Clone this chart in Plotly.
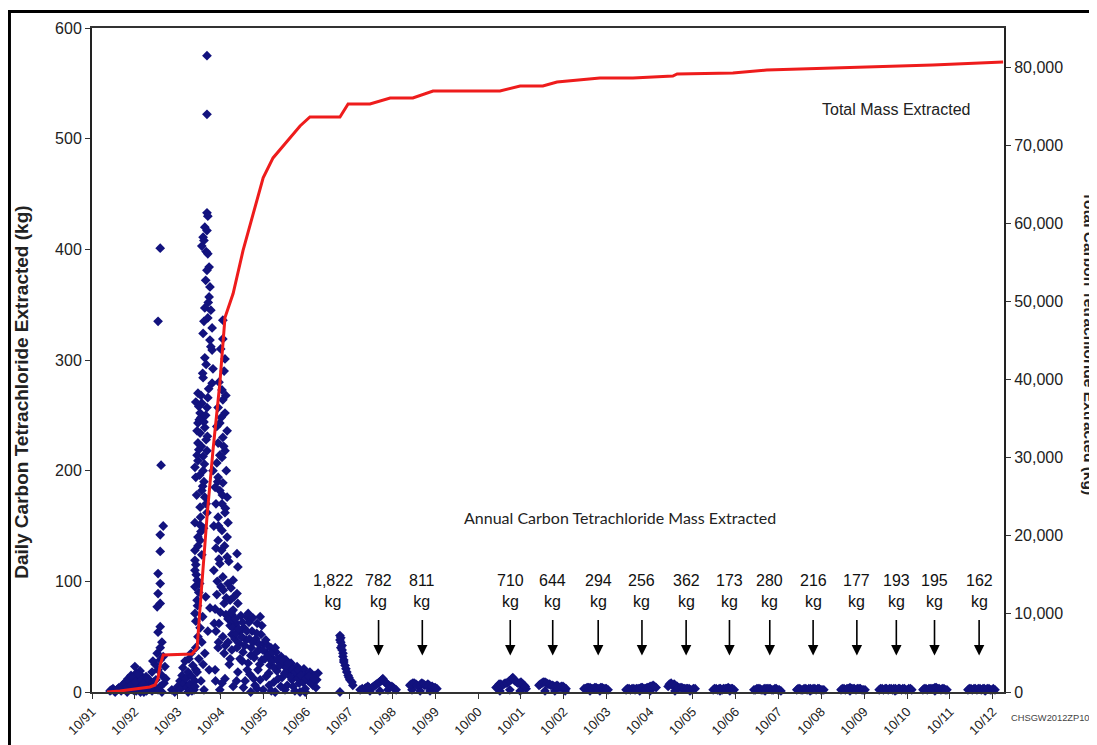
import plotly.graph_objects as go

# ---------------- data ----------------
tick_labels = ["10/91", "10/92", "10/93", "10/94", "10/95", "10/96", "10/97", "10/98",
               "10/99", "10/00", "10/01", "10/02", "10/03", "10/04", "10/05", "10/06",
               "10/07", "10/08", "10/09", "10/10", "10/11", "10/12"]

# Daily extraction (decimal year, kg/day)
early_year = [1992.17, 1992.24, 1992.29, 1992.33, 1992.38, 1992.43, 1992.47, 1992.52, 1992.54, 1992.59,
              1992.61, 1992.66, 1992.68, 1992.71, 1992.73, 1992.75, 1992.78, 1992.80, 1992.82, 1992.85,
              1992.87, 1992.89, 1992.92, 1992.94, 1992.96, 1992.99, 1993.01, 1993.03, 1993.06, 1993.08,
              1993.10, 1993.13, 1993.15, 1993.17, 1993.20, 1992.57, 1992.78, 1992.96, 1992.64, 1992.87,
              1992.20, 1992.27, 1992.36, 1992.45, 1992.50, 1992.56, 1992.63, 1992.66, 1992.70, 1992.76,
              1992.83, 1992.90, 1992.95, 1993.00, 1993.05, 1993.12, 1993.18, 1992.74, 1992.88, 1993.02]
early_kg = [1, 3, 0, 2, 4, 1, 6, 3, 9, 12,
            5, 15, 8, 2, 11, 23, 17, 6, 13, 10,
            3, 15, 8, 12, 5, 9, 14, 2, 7, 11,
            4, 8, 1, 6, 3, 0, 1, 0, 7, 19,
            2, 1, 3, 5, 8, 4, 10, 6, 13, 9,
            16, 11, 7, 4, 12, 3, 9, 1, 0, 1]

spike93_year = [1993.34, 1993.29, 1993.36, 1993.41, 1993.34, 1993.34, 1993.29, 1993.34, 1993.29, 1993.34,
                1993.27, 1993.34, 1993.29, 1993.38, 1993.34, 1993.27, 1993.41, 1993.34, 1993.22, 1993.45,
                1993.29, 1993.38, 1993.24, 1993.43, 1993.34, 1993.29, 1993.38, 1993.15, 1993.17, 1993.47]
spike93_kg = [401, 335, 205, 150, 142, 127, 107, 98, 89, 80,
              77, 59, 54, 45, 40, 35, 32, 29, 25, 23,
              20, 15, 11, 8, 5, 2, 0, 18, 28, 12]

pre94_year = [1993.61, 1993.68, 1993.75, 1993.80, 1993.82, 1993.85, 1993.87, 1993.89, 1993.92, 1993.94,
              1993.96, 1993.99, 1994.01, 1994.03, 1994.06, 1994.08, 1994.10, 1994.13, 1994.15, 1994.17,
              1993.99, 1994.08]
pre94_kg = [2, 0, 5, 10, 3, 15, 22, 8, 28, 12,
            4, 18, 30, 7, 35, 14, 24, 2, 10, 20,
            0, 1]

peak_year = [1994.43, 1994.43, 1994.43, 1994.45, 1994.38, 1994.43, 1994.34, 1994.36, 1994.31, 1994.41,
             1994.45, 1994.48, 1994.43, 1994.50, 1994.48, 1994.38, 1994.52, 1994.45, 1994.55, 1994.34,
             1994.50, 1994.55, 1994.38, 1994.57, 1994.34, 1994.55, 1994.22, 1994.45, 1994.31, 1994.43,
             1994.27, 1994.22, 1994.38, 1994.27, 1994.22, 1994.43, 1994.22, 1994.15, 1994.34, 1994.31,
             1994.38, 1994.27, 1994.43, 1994.15, 1994.27, 1994.27, 1994.15, 1994.15, 1994.15, 1994.20,
             1994.15, 1994.20, 1994.50, 1994.15, 1994.17, 1994.24, 1994.29, 1994.36, 1994.20, 1994.41,
             1994.24, 1994.34, 1994.17, 1994.36, 1994.29, 1994.22, 1994.17, 1994.24, 1994.17, 1994.27,
             1994.22, 1994.31, 1994.17, 1994.24, 1994.34, 1994.20, 1994.29, 1994.15, 1994.36,
             1994.40, 1994.46, 1994.36, 1994.52, 1994.41, 1994.33, 1994.47, 1994.29, 1994.40, 1994.25,
             1994.44, 1994.30, 1994.20, 1994.37, 1994.26, 1994.33, 1994.19, 1994.41, 1994.28, 1994.35,
             1994.22, 1994.31, 1994.18, 1994.26, 1994.40, 1994.21, 1994.33, 1994.45, 1994.38, 1994.48]
peak_kg = [575, 522, 433, 430, 420, 417, 411, 408, 403, 398,
           396, 384, 381, 366, 357, 347, 345, 338, 329, 324,
           318, 309, 302, 292, 284, 279, 270, 266, 261, 257,
           252, 243, 239, 234, 225, 218, 209, 203, 200, 182,
           176, 167, 162, 153, 151, 137, 128, 119, 110, 101,
           95, 83, 76, 71, 262, 258, 248, 244, 236, 228,
           219, 213, 194, 190, 145, 140, 115, 90, 64, 58,
           50, 45, 40, 30, 25, 18, 10, 5, 2,
           372, 352, 335, 312, 296, 288, 274, 268, 250, 246,
           231, 222, 214, 206, 196, 186, 178, 170, 158, 148,
           132, 124, 106, 98, 86, 78, 68, 55, 35, 20]

peak2_year = [1994.80, 1994.80, 1994.85, 1994.78, 1994.80, 1994.69, 1994.85, 1994.73, 1994.90, 1994.80,
              1994.69, 1994.85, 1994.78, 1994.66, 1994.69, 1994.80, 1994.73, 1994.90, 1994.78, 1994.85,
              1994.69, 1994.92, 1994.78, 1994.90, 1994.69, 1995.13, 1994.90, 1994.73, 1995.15, 1994.80,
              1995.04, 1994.92, 1995.13, 1994.97, 1995.15, 1995.04, 1995.36, 1995.67, 1994.57, 1994.62,
              1994.64, 1994.59, 1994.64, 1994.71, 1994.59, 1994.76, 1994.66, 1994.83, 1994.62, 1994.87,
              1994.71, 1994.97, 1994.64, 1994.80, 1995.01, 1994.92, 1994.69, 1995.11, 1995.20, 1995.08,
              1994.83, 1994.97, 1994.62, 1994.85, 1995.04, 1994.73,
              1994.75, 1994.83, 1994.71, 1994.87, 1994.76, 1994.66, 1994.82, 1994.73, 1994.88, 1994.68,
              1994.79, 1994.86, 1994.70, 1994.84, 1994.77, 1994.94, 1994.67, 1994.81, 1994.99, 1994.88,
              1995.06, 1994.74, 1995.01, 1994.92, 1994.60, 1994.70, 1994.86, 1994.95, 1994.63, 1994.78]
peak2_kg = [336, 319, 301, 273, 264, 257, 252, 243, 236, 230,
            225, 218, 212, 207, 194, 189, 182, 176, 170, 162,
            158, 153, 146, 140, 137, 125, 122, 116, 113, 104,
            101, 98, 89, 83, 80, 74, 68, 68, 200, 185,
            170, 150, 130, 120, 110, 95, 88, 80, 75, 70,
            62, 60, 55, 50, 52, 45, 40, 62, 55, 48,
            35, 30, 20, 12, 5, 2,
            310, 290, 280, 268, 248, 240, 222, 214, 200, 190,
            178, 166, 150, 132, 128, 118, 100, 92, 94, 85,
            86, 72, 70, 66, 62, 45, 42, 25, 10, 8]

decay_year = [1994.99, 1995.06, 1995.11, 1995.18, 1995.22, 1995.27, 1995.29, 1995.34, 1995.39, 1995.41,
              1995.46, 1995.48, 1995.53, 1995.57, 1995.60, 1995.62, 1995.64, 1995.69, 1995.71, 1995.76,
              1995.81, 1995.83, 1995.85, 1995.90, 1995.92, 1995.97, 1995.99, 1996.04, 1996.06, 1996.11,
              1996.16, 1996.18, 1996.22, 1996.27, 1996.30, 1996.34, 1996.39, 1996.41, 1996.46, 1996.51,
              1996.53, 1996.58, 1996.60, 1996.65, 1996.69, 1996.72, 1996.76, 1996.79, 1996.83, 1996.88,
              1996.90, 1996.95, 1996.99, 1997.02, 1995.32, 1995.55, 1995.74, 1996.02, 1995.15, 1995.01,
              1995.25, 1995.43, 1995.67, 1995.88, 1996.25, 1996.48, 1996.72, 1995.39, 1995.50, 1995.71,
              1995.03, 1995.09, 1995.13, 1995.17, 1995.20, 1995.24, 1995.26, 1995.31, 1995.36, 1995.37,
              1995.42, 1995.45, 1995.51, 1995.52, 1995.58, 1995.59, 1995.65, 1995.66, 1995.73, 1995.78,
              1995.80, 1995.86, 1995.87, 1995.94, 1995.95, 1996.00, 1996.02, 1996.08, 1996.09, 1996.13,
              1996.20, 1996.24, 1996.29, 1996.32, 1996.37, 1996.43, 1996.44, 1996.49, 1996.55, 1996.56,
              1996.62, 1996.67, 1996.74, 1996.81, 1996.86, 1996.93, 1996.97, 1995.28, 1995.60, 1995.93,
              1996.15, 1996.60, 1995.12, 1995.45]
decay_kg = [72, 64, 53, 44, 69, 36, 58, 47, 26, 63,
            40, 55, 31, 48, 62, 20, 38, 52, 29, 44,
            14, 35, 42, 24, 40, 30, 9, 36, 19, 27,
            32, 13, 24, 29, 6, 18, 26, 11, 21, 15,
            23, 8, 19, 13, 21, 3, 16, 10, 18, 13,
            6, 15, 11, 17, 10, 6, 2, 0, 18, 38,
            28, 16, 11, 6, 2, 1, 0, 71, 67, 60,
            58, 66, 40, 57, 30, 50, 63, 42, 55, 20,
            48, 33, 45, 12, 36, 53, 43, 25, 38, 30,
            47, 33, 17, 28, 36, 22, 40, 30, 12, 24,
            28, 17, 22, 26, 14, 20, 5, 18, 12, 20,
            15, 9, 12, 14, 8, 12, 4, 4, 3, 1,
            5, 0, 10, 0]

fy97_year = [1997.53, 1997.55, 1997.53, 1997.55, 1997.58, 1997.55, 1997.58, 1997.60, 1997.60, 1997.62,
             1997.62, 1997.65, 1997.67, 1997.69, 1997.72, 1997.74, 1997.76, 1997.81, 1997.53, 1997.83]
fy97_kg = [51, 49, 47, 45, 42, 40, 38, 35, 32, 29,
           27, 24, 21, 18, 15, 13, 11, 9, 0, 6]

late_year = [1998.00, 1998.11, 1998.18, 1998.28, 1998.35, 1998.42, 1998.49, 1998.53, 1998.58, 1998.63,
             1998.70, 1998.77, 1998.84, 1998.23, 1998.46, 1998.65,
             1998.05, 1998.14, 1998.21, 1998.31, 1998.38, 1998.45, 1998.51, 1998.56, 1998.61, 1998.67,
             1998.74, 1998.80,
             1999.16, 1999.23, 1999.30, 1999.37, 1999.44, 1999.51, 1999.58, 1999.65, 1999.72, 1999.79,
             1999.21, 1999.40, 1999.63, 1999.19, 1999.26, 1999.33, 1999.41, 1999.48, 1999.55, 1999.61,
             1999.68, 1999.75,
             2001.17, 2001.24, 2001.31, 2001.38, 2001.45, 2001.52, 2001.56, 2001.61, 2001.68, 2001.75,
             2001.82, 2001.87, 2001.26, 2001.49, 2001.73, 2001.20, 2001.28, 2001.35, 2001.42, 2001.48,
             2001.54, 2001.59, 2001.65, 2001.71, 2001.79, 2001.85,
             2002.17, 2002.24, 2002.31, 2002.38, 2002.45, 2002.52, 2002.59, 2002.66, 2002.73, 2002.80,
             2002.31, 2002.54, 2002.78, 2002.20, 2002.27, 2002.35, 2002.42, 2002.49, 2002.56, 2002.62,
             2002.69, 2002.76,
             2003.22, 2003.29, 2003.36, 2003.43, 2003.50, 2003.57, 2003.64, 2003.71, 2003.78, 2003.36,
             2003.59, 2003.25, 2003.32, 2003.40, 2003.47, 2003.54, 2003.61, 2003.67, 2003.74,
             2004.20, 2004.27, 2004.34, 2004.41, 2004.48, 2004.55, 2004.62, 2004.69, 2004.76, 2004.83,
             2004.90, 2004.52, 2004.76, 2004.23, 2004.30, 2004.38, 2004.44, 2004.51, 2004.58, 2004.65,
             2004.72, 2004.79, 2004.86,
             2005.18, 2005.25, 2005.32, 2005.39, 2005.46, 2005.53, 2005.60, 2005.67, 2005.74, 2005.81,
             2005.34, 2005.69, 2005.21, 2005.28, 2005.35, 2005.42, 2005.50, 2005.56, 2005.63, 2005.70,
             2005.77,
             2006.23, 2006.30, 2006.37, 2006.44, 2006.51, 2006.58, 2006.65, 2006.72, 2006.39, 2006.62,
             2006.26, 2006.33, 2006.40, 2006.47, 2006.54, 2006.61, 2006.68,
             2007.18, 2007.25, 2007.32, 2007.39, 2007.46, 2007.53, 2007.60, 2007.67, 2007.74, 2007.81,
             2007.44, 2007.21, 2007.28, 2007.35, 2007.42, 2007.49, 2007.56, 2007.63, 2007.70, 2007.77,
             2008.18, 2008.25, 2008.32, 2008.39, 2008.46, 2008.53, 2008.60, 2008.67, 2008.74, 2008.81,
             2008.49, 2008.21, 2008.28, 2008.35, 2008.42, 2008.50, 2008.56, 2008.63, 2008.70, 2008.77,
             2009.21, 2009.28, 2009.35, 2009.42, 2009.49, 2009.56, 2009.63, 2009.70, 2009.77, 2009.42,
             2009.24, 2009.31, 2009.38, 2009.45, 2009.52, 2009.59, 2009.66, 2009.73,
             2010.10, 2010.17, 2010.24, 2010.31, 2010.38, 2010.44, 2010.51, 2010.58, 2010.65, 2010.72,
             2010.79, 2010.86, 2010.47, 2010.13, 2010.20, 2010.27, 2010.34, 2010.41, 2010.48, 2010.55,
             2010.62, 2010.69, 2010.76, 2010.83,
             2011.12, 2011.19, 2011.26, 2011.33, 2011.40, 2011.47, 2011.54, 2011.61, 2011.68, 2011.40,
             2011.15, 2011.22, 2011.29, 2011.36, 2011.43, 2011.50, 2011.57, 2011.64,
             2012.17, 2012.24, 2012.31, 2012.38, 2012.45, 2012.52, 2012.59, 2012.66, 2012.73, 2012.80,
             2012.57, 2012.20, 2012.27, 2012.34, 2012.41, 2012.48, 2012.55, 2012.62, 2012.69, 2012.76]
late_kg = [2, 3, 5, 4, 6, 8, 10, 12, 9, 7,
           5, 4, 2, 1, 1, 2,
           3, 4, 4, 5, 7, 9, 11, 10, 8, 6,
           5, 3,
           6, 8, 7, 5, 8, 6, 7, 5, 4, 3,
           2, 1, 1, 7, 8, 6, 7, 7, 6, 6,
           5, 4,
           4, 7, 6, 8, 9, 11, 13, 10, 8, 9,
           6, 3, 1, 2, 1, 5, 7, 7, 8, 10,
           12, 11, 9, 8, 7, 5,
           6, 8, 9, 7, 6, 5, 6, 4, 5, 3,
           1, 1, 1, 7, 9, 8, 7, 6, 5, 5,
           5, 4,
           3, 4, 4, 3, 4, 3, 4, 3, 2, 1,
           1, 3, 4, 3, 4, 3, 4, 3, 3,
           2, 3, 3, 2, 3, 4, 3, 4, 5, 6,
           4, 1, 1, 3, 2, 3, 3, 3, 4, 3,
           4, 5, 5,
           5, 8, 7, 5, 4, 3, 3, 3, 2, 3,
           1, 1, 7, 6, 6, 4, 4, 3, 3, 2,
           3,
           2, 3, 3, 2, 3, 4, 3, 2, 1, 1,
           3, 2, 3, 3, 3, 3, 3,
           2, 3, 3, 2, 3, 3, 2, 3, 2, 1,
           1, 2, 3, 2, 3, 3, 3, 2, 3, 2,
           2, 3, 2, 3, 3, 2, 3, 3, 2, 2,
           1, 3, 2, 3, 2, 3, 3, 2, 3, 2,
           2, 3, 3, 4, 3, 2, 3, 2, 2, 1,
           3, 2, 3, 3, 3, 3, 3, 2,
           2, 3, 3, 2, 3, 3, 2, 3, 3, 2,
           3, 2, 1, 3, 2, 3, 3, 2, 3, 3,
           2, 3, 2, 3,
           2, 3, 3, 3, 4, 3, 2, 3, 2, 1,
           3, 2, 3, 3, 4, 3, 3, 2,
           2, 3, 3, 2, 3, 3, 2, 3, 2, 2,
           1, 3, 2, 3, 3, 2, 3, 3, 2, 3]

# Cumulative mass extracted (decimal year, kg)
cum_year = [1992.10, 1992.40, 1992.75, 1993.10, 1993.22, 1993.29, 1993.34, 1993.41, 1994.08, 1994.20,
            1994.27, 1994.43, 1994.57, 1994.73, 1994.85, 1994.92, 1995.04, 1995.27, 1995.60, 1995.74,
            1995.97, 1996.37, 1996.60, 1996.83, 1997.53, 1997.72, 1998.23, 1998.70, 1999.23, 1999.70,
            2001.26, 2001.73, 2002.26, 2002.59, 2003.59, 2004.36, 2005.29, 2005.39, 2006.69, 2007.48,
            2009.02, 2011.35, 2012.99]
cum_kg = [0, 130, 380, 640, 900, 1790, 3450, 4730, 4860, 5620,
          10860, 22370, 30930, 39490, 47930, 49080, 51000, 56490, 62880, 65820,
          68370, 70930, 72460, 73610, 73610, 75270, 75270, 76040, 76040, 76940,
          76940, 77570, 77570, 78090, 78600, 78600, 78850, 79110, 79240, 79620,
          79880, 80260, 80640]

# Annual totals (label position in decimal year, text)
annual_year = [1997.37, 1998.43, 1999.45, 2001.50, 2002.49, 2003.55, 2004.57, 2005.60, 2006.61, 2007.55,
               2008.56, 2009.58, 2010.50, 2011.39, 2012.43]
annual_kg = ["1,822", "782", "811", "710", "644", "294", "256", "362", "173", "280",
             "216", "177", "193", "195", "162"]

# ---------------- figure ----------------
tick_vals = [(1900 + int(t[3:]) if int(t[3:]) > 50 else 2000 + int(t[3:])) + 0.75 for t in tick_labels]

daily_x = early_year + spike93_year + pre94_year + peak_year + peak2_year + decay_year + fy97_year + late_year
daily_y = early_kg + spike93_kg + pre94_kg + peak_kg + peak2_kg + decay_kg + fy97_kg + late_kg

FONT = "Liberation Sans, Arial, sans-serif"
NAVY = "#12127e"

fig = go.Figure()
fig.add_trace(go.Scatter(
    x=daily_x, y=daily_y, mode="markers", yaxis="y",
    marker=dict(symbol="diamond", size=7.5, color=NAVY, line=dict(width=0)),
    cliponaxis=False, name="Daily"))
fig.add_trace(go.Scatter(
    x=cum_year, y=cum_kg, mode="lines", yaxis="y2",
    line=dict(color="#ee1c1c", width=3), name="Total"))

annotations = []
for i, (yr, lab) in enumerate(zip(annual_year, annual_kg)):
    annotations.append(dict(x=yr, y=91.5, xref="x", yref="y", text=f"{lab}<br>kg",
                            showarrow=False, font=dict(family=FONT, size=16, color="#111"),
                            xanchor="center", yanchor="middle"))
    if i > 0:
        annotations.append(dict(x=yr, y=33, xref="x", yref="y", text="", showarrow=True,
                                ax=0, ay=-37, arrowhead=2, arrowsize=1.3, arrowwidth=1.6,
                                arrowcolor="#000"))

annotations += [
    dict(x=0.579, y=0.246, xref="paper", yref="paper", text="Annual Carbon Tetrachloride Mass Extracted",
         xanchor="center", showarrow=False, font=dict(family="Lato, Carlito, sans-serif", size=16, color="#222")),
    dict(x=0.8816, y=0.893, xref="paper", yref="paper", text="Total Mass Extracted",
         xanchor="center", showarrow=False, font=dict(family=FONT, size=16, color="#222")),
    dict(x=-0.0768, y=0.452, xref="paper", yref="paper", text="<b>Daily Carbon Tetrachloride Extracted (kg)</b>",
         xanchor="center", yanchor="middle", textangle=-90, showarrow=False,
         font=dict(family=FONT, size=19, color="#222")),
    dict(x=1.094, y=0.525, xref="paper", yref="paper", text="<b>Total Carbon Tetrachloride Extracted (kg)</b>",
         xanchor="center", yanchor="middle", textangle=90, showarrow=False,
         font=dict(family=FONT, size=15.5, color="#222")),
    dict(x=1.0055, y=-0.0495, xref="paper", yref="paper", text="CHSGW2012ZP10", xanchor="left",
         showarrow=False, font=dict(family=FONT, size=9.3, color="#444")),
]

fig.update_layout(
    width=1097, height=745,
    margin=dict(l=84, r=101, t=18, b=61),
    paper_bgcolor="white", plot_bgcolor="white",
    showlegend=False,
    annotations=annotations,
    shapes=[dict(type="rect", xref="paper", yref="paper", x0=-0.0905, x1=1.12, y0=-0.12, y1=1.0248,
                 line=dict(color="black", width=3), layer="below")],
    xaxis=dict(range=[1991.75, 2013.01], tickvals=tick_vals, ticktext=tick_labels, tickangle=-45,
               showgrid=False, zeroline=False, showline=True, mirror=True, linecolor="#333", linewidth=2,
               ticks="outside", ticklen=5, tickcolor="#333",
               tickfont=dict(family=FONT, size=13, color="#222")),
    yaxis=dict(range=[0, 600], dtick=100, showgrid=False, zeroline=False, showline=True,
               linecolor="#222", linewidth=2, ticks="outside", ticklen=5, tickcolor="#333",
               tickfont=dict(family=FONT, size=16, color="#222")),
    yaxis2=dict(range=[0, 85000], tickvals=[0, 10000, 20000, 30000, 40000, 50000, 60000, 70000, 80000],
                tickformat=",d", overlaying="y", side="right", showgrid=False, zeroline=False,
                showline=True, linecolor="#222", linewidth=2, ticks="outside", ticklen=5, tickcolor="#333",
                tickfont=dict(family=FONT, size=16, color="#222")),
)

fig.write_html("out.html")
